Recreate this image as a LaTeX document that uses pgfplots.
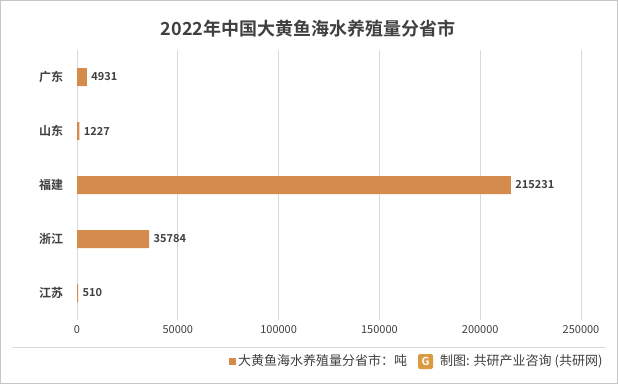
\documentclass[border=0pt]{standalone}
\usepackage{pgfplots}
\pgfplotsset{compat=1.18}
\usepackage{fontspec}
\setmainfont{Noto Sans CJK SC}[BoldFont={Noto Sans CJK SC Bold}]
\definecolor{barc}{RGB}{213,139,76}
\definecolor{txt}{RGB}{64,64,64}
\definecolor{gridc}{RGB}{217,217,217}
\begin{document}
\begin{tikzpicture}[x=1bp,y=1bp]
\fill[white] (0,0) rectangle (618,384);
\draw[gray!45] (0.5,0.5) rectangle (617.5,383.5);
\node[font=\fontsize{18bp}{21bp}\selectfont\bfseries, text=txt] at (308,355) {2022年中国大黄鱼海水养殖量分省市};
\draw[gridc] (12,37) -- (606,37);
\begin{axis}[
  at={(77bp,64bp)}, anchor=south west, scale only axis,
  width=504bp, height=270bp,
  xbar, bar width=18bp,
  xmin=0, xmax=250000, ymin=-0.5, ymax=4.5, y dir=reverse,
  ytick={0,1,2,3,4}, yticklabels={广东,山东,福建,浙江,江苏},
  xtick={0,50000,100000,150000,200000,250000},
  scaled x ticks=false,
  /pgf/number format/.cd, fixed, precision=0, 1000 sep={}, assume math mode=true, /pgfplots/.cd,
  xticklabel style={font=\fontsize{11bp}{13bp}\selectfont, text=txt, yshift=-2bp},
  yticklabel style={font=\fontsize{12bp}{14bp}\selectfont\bfseries, text=txt, xshift=-6bp},
  axis line style={draw=none}, tick style={draw=none},
  xmajorgrids, grid style={gridc, line width=0.8bp},
  nodes near coords={\pgfmathprintnumber[fixed,precision=0,1000 sep={},assume math mode=true]{\pgfplotspointmeta}},
  nodes near coords style={font=\fontsize{11bp}{13bp}\selectfont\bfseries, text=txt, xshift=1bp},
  legend style={at={(0.3016,-0.152)}, anchor=west, draw=none, fill=none, font=\fontsize{13bp}{15bp}\selectfont, text=txt, inner sep=0pt},
  legend image code/.code={\fill[barc] (0bp,-3.5bp) rectangle (7bp,3.5bp);},
]
\addplot[fill=barc, draw=none] coordinates {(4931,0) (1227,1) (215231,2) (35784,3) (510,4)};
\addlegendentry{大黄鱼海水养殖量分省市：吨}
\end{axis}
\fill[barc!85!yellow, rounded corners=2bp] (418,15) rectangle (433,30);
\node[font=\fontsize{11bp}{13bp}\selectfont\bfseries, text=white] at (425.5,22.5) {G};
\node[anchor=west, font=\fontsize{13bp}{15bp}\selectfont, text=txt, inner sep=0pt] at (440,23) {制图: 共研产业咨询 (共研网)};
\end{tikzpicture}
\end{document}
